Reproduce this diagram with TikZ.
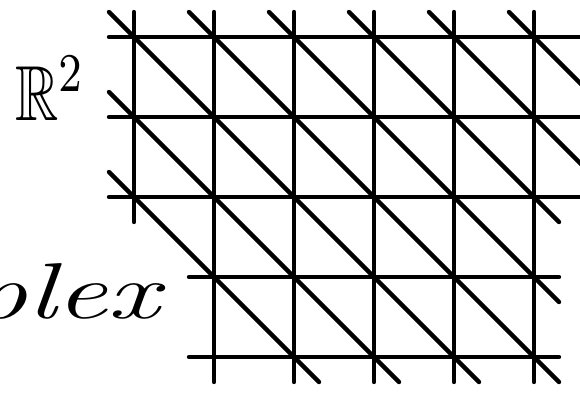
\documentclass[tikz,border=0pt]{standalone}
\usepackage{amssymb}
\usepackage{fontspec}
\begin{document}
\begin{tikzpicture}[x=1pt,y=-1pt,
  mesh/.style={line width=4.4pt, line cap=round, draw=black},
  lbl/.style={inner sep=0pt, text=black}]
\useasboundingbox (0,0) rectangle (580,392);
\foreach \c in {0,...,6}
  \foreach \r in {0,...,4}
    \coordinate (v\c\r) at ({134+80*\c},{37+80*\r});
\def\s{25}
\begin{scope}
\clip (0,0) rectangle (580,392);
% horizontal lines
\foreach \r in {0,1,2}
  \draw[mesh] ([xshift=-\s pt]v0\r) -- (v6\r);
\foreach \r in {3,4}
  \draw[mesh] ([xshift=-\s pt]v1\r) -- ([xshift=\s pt]v5\r);
% vertical lines
\draw[mesh] ([yshift=\s pt]v00) -- ([yshift=-\s pt]v02);
\foreach \c in {1,...,5}
  \draw[mesh] ([yshift=\s pt]v\c0) -- ([yshift=-\s pt]v\c4);
% diagonal lines (with stubs)
\draw[mesh] ([shift={(-\s,-\s)}]v02) -- ([shift={(\s,\s)}]v24);
\draw[mesh] ([shift={(-\s,-\s)}]v01) -- ([shift={(\s,\s)}]v34);
\draw[mesh] ([shift={(-\s,-\s)}]v00) -- ([shift={(\s,\s)}]v44);
\draw[mesh] ([shift={(-\s,-\s)}]v10) -- ([shift={(\s,\s)}]v54);
\draw[mesh] ([shift={(-\s,-\s)}]v20) -- ([shift={(\s,\s)}]v53);
\draw[mesh] ([shift={(-\s,-\s)}]v30) -- ([shift={(\s,\s)}]v52);
\draw[mesh] ([shift={(-\s,-\s)}]v40) -- ([shift={(\s,\s)}]v62);
\draw[mesh] ([shift={(-\s,-\s)}]v50) -- ([shift={(\s,\s)}]v61);
\end{scope}
% labels
\node[lbl, anchor=base west, xscale=6.0, yscale=7.8] (rtwo) at (14,120) {$\mathbb{R}^{2}$};
\node[lbl, anchor=base east, xscale=1.6, yscale=1.1,
  font=\fontsize{72}{72}\selectfont\itshape] (cplx) at (160,318) {plex};
\end{tikzpicture}
\end{document}
